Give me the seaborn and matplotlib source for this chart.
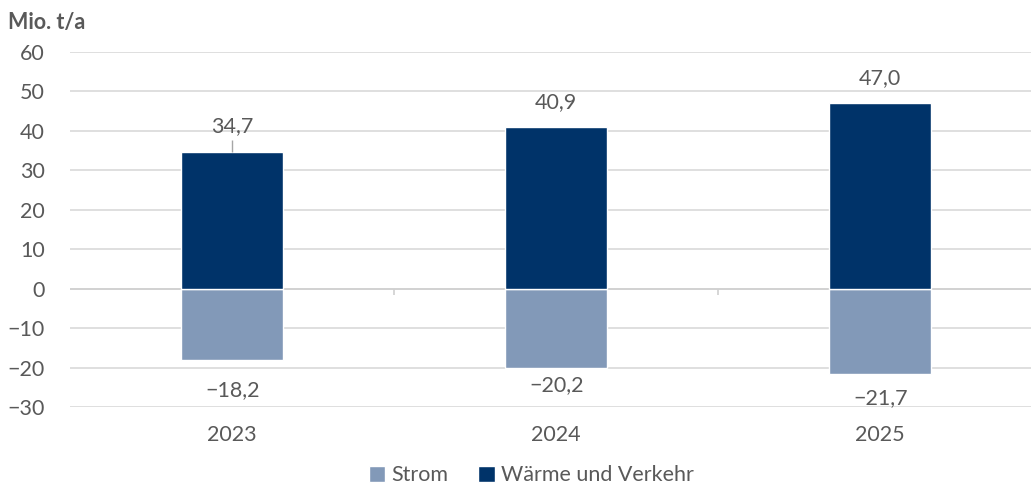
import pandas as pd
import matplotlib.pyplot as plt
import seaborn as sns

# data
jahre = ['2023', '2024', '2025']
strom = [-18.2, -20.2, -21.7]
waerme_verkehr = [34.7, 40.9, 47.0]
serien = ['Strom', 'Wärme und Verkehr']

df = pd.DataFrame({
    'Jahr': jahre * 2,
    'Wert': strom + waerme_verkehr,
    'Serie': [serien[0]] * 3 + [serien[1]] * 3,
})

sns.set_theme(style='white')
plt.rcParams['font.family'] = ['Lato', 'DejaVu Sans']
grau = '#595959'
fs = 15.5

fig = plt.figure(figsize=(10.31, 4.91), dpi=100)
ax = fig.add_axes([0.068, 0.171, 0.932, 0.723])

farben = {'Strom': '#8299b8', 'Wärme und Verkehr': '#003369'}
sns.barplot(data=df, x='Jahr', y='Wert', hue='Serie', dodge=False,
            palette=farben, saturation=1, width=0.315, ax=ax, zorder=2, legend=True)

ax.set_ylim(-30, 60)
ax.set_xlim(-0.5, 2.465)
ax.set_yticks(range(-30, 61, 10))
ax.yaxis.grid(True, color='#d9d9d9', linewidth=1.2, zorder=0)
ax.set_axisbelow(True)
for s in ax.spines.values():
    s.set_visible(False)
ax.axhline(0, color='#d0d0d0', linewidth=1.2, zorder=1)
ax.vlines([0.5, 1.5], -1.5, 0, color='#d0d0d0', linewidth=1.2, zorder=1)

ax.tick_params(axis='both', length=0, labelsize=fs, labelcolor=grau)
ax.tick_params(axis='y', pad=18)
ax.tick_params(axis='x', pad=13)
ax.set_xlabel('')
ax.set_ylabel('')

def fmt(v):
    return f'{v:.1f}'.replace('.', ',').replace('-', '−')

# value labels
for i, v in enumerate(waerme_verkehr):
    ax.annotate(fmt(v), (i, v), xytext=(0, 11), textcoords='offset points',
                ha='center', va='bottom', fontsize=fs, color=grau)
ax.vlines(0, waerme_verkehr[0], waerme_verkehr[0] + 3, color='#a6a6a6', linewidth=1)
neg_offsets = [-14, -5, -10]
for i, v in enumerate(strom):
    ax.annotate(fmt(v), (i, v), xytext=(0, neg_offsets[i]), textcoords='offset points',
                ha='center', va='top', fontsize=fs, color=grau)

handles, labels = ax.get_legend_handles_labels()
ax.legend(handles, labels, loc='lower center', bbox_to_anchor=(0.48, -0.275),
          ncol=2, frameon=False, fontsize=fs, labelcolor=grau,
          handlelength=0.75, handleheight=0.75, handletextpad=0.3, columnspacing=1.4)

fig.text(0.008, 0.955, 'Mio. t/a', fontsize=fs, fontweight='bold', color=grau, va='center')

fig.savefig('out.png', dpi=100)
